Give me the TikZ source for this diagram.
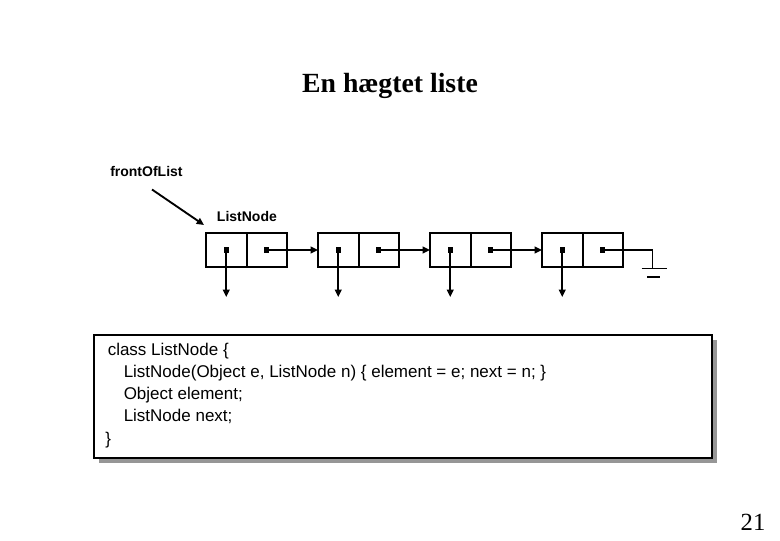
\documentclass[tikz,border=0pt]{standalone}
\usepackage{fontspec}
\setmainfont{Liberation Sans}
\newfontfamily\titlefont{Liberation Serif}
\usepackage{tikz}
\usetikzlibrary{arrows.meta,positioning,calc,shadows}
\definecolor{shadowgray}{RGB}{150, 150, 150}

\begin{document}
\begin{tikzpicture}[x=0.75pt, y=-0.75pt, >={Triangle[length=5.5pt,width=5pt]},
    cell/.style={draw, line width=1.5pt, minimum width=30.4pt, minimum height=26.2pt, inner sep=0pt, outer sep=0pt},
    dot/.style={fill, minimum size=3.8pt, inner sep=0pt},
    ptr/.style={->, line width=1.4pt},
    label/.style={font=\bfseries\fontsize{10.5}{12}\selectfont, inner sep=0pt},
    codeline/.style={anchor=base west, inner sep=0pt, font=\fontsize{12.75}{15}\selectfont},
    codebox/.style={draw, line width=1.5pt, fill=white, minimum width=463.3pt, minimum height=92pt, inner sep=0pt,
        drop shadow={shadow xshift=3.75pt, shadow yshift=-3.75pt, fill=shadowgray, opacity=1}}]
    \useasboundingbox (0,0) rectangle (780,540);

    % Title
    \node[anchor=base, inner sep=0pt, font=\titlefont\bfseries\fontsize{20.8}{24}\selectfont] (title) at (390,92) {En hægtet liste};

    % List nodes
    \foreach \i in {1,...,4} {
        \node[cell] (e\i) at ({226.25+112*(\i-1)},250) {};
        \node[cell, right=0pt of e\i] (n\i) {};
        \node[dot] (de\i) at (e\i.center) {};
        \node[dot] (dn\i) at (n\i.center) {};
        \coordinate (v\i) at ($(e\i.center)+(0,47)$);
        \draw[ptr] (e\i.center) -- (v\i);
    }

    % Next pointers
    \foreach \i/\j in {1/2,2/3,3/4}
        \draw[ptr] (n\i.center) -- (e\j.west);

    % Null (ground)
    \coordinate (gnd) at (652.5,268.5);
    \draw[line width=1.4pt] (n4.center) -| (gnd);
    \draw[line width=1.4pt] ($(gnd)+(-11,0)$) -- ++(25,0);
    \draw[line width=1.4pt] ($(gnd)+(-5.5,8.2)$) -- ++(13,0);

    % Labels
    \node[label, anchor=base west] (front) at (110,176.7) {frontOfList};
    \node[label, anchor=base west] (lnlabel) at (216.7,221.7) {ListNode};
    \coordinate (fstart) at (152,189.5);
    \coordinate (ftip) at (204,225);
    \draw[ptr] (fstart) -- (ftip);

    % Class declaration
    \node[codebox] (code) at (402.85,396.35) {};
    \node[codeline] (c1) at (107.5,355) {class ListNode \{};
    \node[codeline] (c2) at (123.5,377) {ListNode(Object e, ListNode n) \{ element = e; next = n; \}};
    \node[codeline] (c3) at (123.5,399.3) {Object element;};
    \node[codeline] (c4) at (123.5,421.6) {ListNode next;};
    \node[codeline] (c5) at (105,444) {\}};

    % Page number
    \node[anchor=base, inner sep=0pt, font=\titlefont\fontsize{18.5}{22}\selectfont] (page) at (753,530) {21};
\end{tikzpicture}
\end{document}
